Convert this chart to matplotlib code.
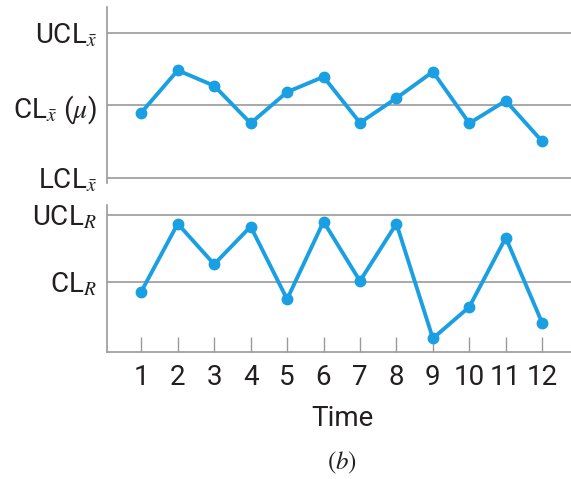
import matplotlib.pyplot as plt

# sample number
samples = [1, 2, 3, 4, 5, 6, 7, 8, 9, 10, 11, 12]

# x-bar chart (in sigma units, CL = 0)
xbar = [-0.30, 1.45, 0.81, -0.74, 0.55, 1.18, -0.72, 0.30, 1.39, -0.74, 0.19, -1.49]
xbar_limits = [3.0, 0.0, -3.0]
xbar_labels = [r'UCL$_{\bar{x}}$', r'CL$_{\bar{x}}$ ($\mu$)', r'LCL$_{\bar{x}}$']

# R chart (CL_R = 1)
rng = [0.86, 1.83, 1.25, 1.79, 0.75, 1.86, 1.01, 1.83, 0.19, 0.64, 1.63, 0.41]
r_limits = [1.96, 1.0]
r_labels = [r'UCL$_{R}$', r'CL$_{R}$']

plt.rcParams['font.family'] = ['Roboto', 'DejaVu Sans']
plt.rcParams['mathtext.fontset'] = 'stix'

blue = '#1aa0e2'
gray = '#9a9a9a'
txt = '#231f20'

fig = plt.figure(figsize=(5.71, 4.79), dpi=100)
ax1 = fig.add_axes([0.1874, 0.618, 0.8126, 0.367])
ax2 = fig.add_axes([0.1874, 0.2658, 0.8126, 0.306])

for ax in (ax1, ax2):
    for s in ['top', 'right']:
        ax.spines[s].set_visible(False)
    ax.spines['left'].set_color(gray)
    ax.spines['left'].set_linewidth(1.2)
    ax.set_xlim(0.059, 12.79)
    ax.tick_params(axis='y', length=0, pad=7, labelsize=20, labelcolor=txt)

# top panel
for v in xbar_limits:
    ax1.axhline(v, color=gray, lw=1.2, zorder=1)
ax1.plot(samples, xbar, color=blue, lw=2.8, marker='o', ms=7.5, zorder=3)
ax1.set_ylim(-3.21, 4.06)
ax1.set_yticks(xbar_limits)
ax1.set_yticklabels(xbar_labels)
ax1.spines['bottom'].set_visible(False)
ax1.set_xticks([])

# bottom panel
for v in r_limits:
    ax2.axhline(v, color=gray, lw=1.2, zorder=1)
ax2.plot(samples, rng, color=blue, lw=2.8, marker='o', ms=7.5, zorder=3)
ax2.set_ylim(0, 2.096)
ax2.set_yticks(r_limits)
ax2.set_yticklabels(r_labels)
ax2.spines['bottom'].set_color(gray)
ax2.spines['bottom'].set_linewidth(1.2)
ax2.set_xticks(samples)
ax2.tick_params(axis='x', direction='in', length=11, width=1, color=gray,
                pad=9, labelsize=20, labelcolor=txt)

fig.text(342 / 571, 1 - 418 / 479, 'Time', ha='center', va='center',
         fontsize=20, color=txt)
fig.text(342 / 571, 1 - 463 / 479, r'$(b)$', ha='center', va='center',
         fontsize=18, color=txt)

fig.savefig('out.png', dpi=100)
